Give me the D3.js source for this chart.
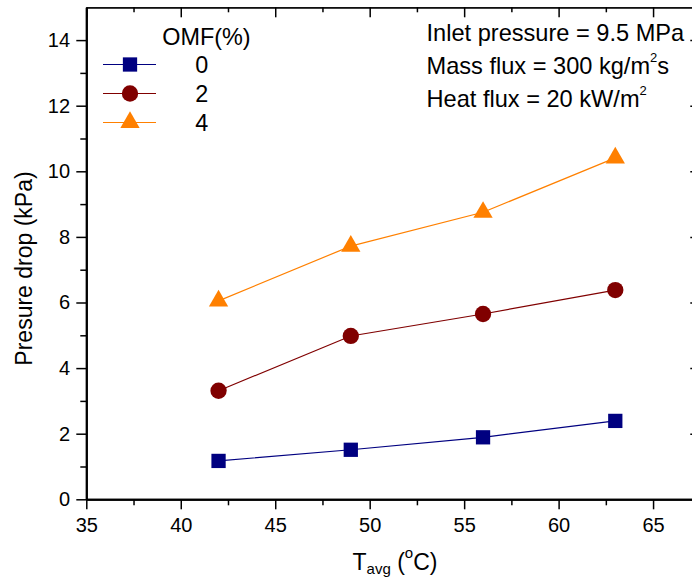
<!DOCTYPE html>
<html>
<head>
<meta charset="utf-8">
<script src="https://cdn.jsdelivr.net/npm/d3@7"></script>
<style>
  body { margin: 0; background: #fff; }
  svg text { font-family: "Liberation Sans", Arial, sans-serif; fill: #000; }
</style>
</head>
<body>
<svg id="chart" width="692" height="586"></svg>
<script>
// Average temperature (°C) for each test point
const temperatures = [42, 49, 56, 63];
// Pressure drop (kPa) at each oil mass fraction
const dropOmf0 = [1.17, 1.51, 1.89, 2.39];
const dropOmf2 = [3.31, 4.98, 5.65, 6.38];
const dropOmf4 = [6.05, 7.72, 8.75, 10.41];
const seriesLabels = ["0", "2", "4"];
const legendTitle = "OMF(%)";

const xMajorTicks = [35, 40, 45, 50, 55, 60, 65];
const xMinorTicks = [37.5, 42.5, 47.5, 52.5, 57.5, 62.5];
const yMajorTicks = [0, 2, 4, 6, 8, 10, 12, 14];
const yMinorTicks = [1, 3, 5, 7, 9, 11, 13];

const svg = d3.select("#chart");
const plot = { left: 86.3, right: 700.3, top: 7.3, bottom: 499.3 };

const x = d3.scaleLinear().domain([35, 67.5]).range([plot.left, plot.right]);
const y = d3.scaleLinear().domain([0, 15]).range([plot.bottom, plot.top]);

const series = [
  { label: seriesLabels[0], values: dropOmf0, color: "#000080", shape: "square" },
  { label: seriesLabels[1], values: dropOmf2, color: "#800000", shape: "circle" },
  { label: seriesLabels[2], values: dropOmf4, color: "#FF8000", shape: "triangle" }
];

const symbolFor = {
  square: d3.symbol().type(d3.symbolSquare).size(204),
  circle: d3.symbol().type(d3.symbolCircle).size(209),
  triangle: d3.symbol().type(d3.symbolTriangle).size(161)
};

// ---- axes ----
function styleAxis(g, domainWidth) {
  g.select(".domain").attr("stroke", "#000").attr("stroke-width", domainWidth);
  g.selectAll(".tick line").attr("stroke", "#000").attr("stroke-width", 1.5);
  g.selectAll(".tick text").style("font-size", "20px").attr("fill", "#000");
}

// bottom
svg.append("g")
  .attr("transform", `translate(0,${plot.bottom})`)
  .call(d3.axisBottom(x).tickValues(xMinorTicks).tickSize(6).tickSizeOuter(0).tickFormat(() => ""))
  .call(g => styleAxis(g, 2));
svg.append("g")
  .attr("transform", `translate(0,${plot.bottom})`)
  .call(d3.axisBottom(x).tickValues(xMajorTicks).tickSize(10).tickSizeOuter(0).tickPadding(8.2))
  .call(g => styleAxis(g, 2));

// left
svg.append("g")
  .attr("transform", `translate(${plot.left},0)`)
  .call(d3.axisLeft(y).tickValues(yMinorTicks).tickSize(6).tickSizeOuter(0).tickFormat(() => ""))
  .call(g => styleAxis(g, 2));
svg.append("g")
  .attr("transform", `translate(${plot.left},0)`)
  .call(d3.axisLeft(y).tickValues(yMajorTicks).tickSize(10).tickSizeOuter(0).tickPadding(6.3))
  .call(g => styleAxis(g, 2));

// top (ticks pointing inward)
svg.append("g")
  .attr("transform", `translate(0,${plot.top})`)
  .call(d3.axisBottom(x).tickValues(xMinorTicks).tickSize(5).tickSizeOuter(0).tickFormat(() => ""))
  .call(g => styleAxis(g, 1.3));
svg.append("g")
  .attr("transform", `translate(0,${plot.top})`)
  .call(d3.axisBottom(x).tickValues(xMajorTicks).tickSize(10).tickSizeOuter(0).tickFormat(() => ""))
  .call(g => styleAxis(g, 1.3));

// right (ticks pointing inward)
svg.append("g")
  .attr("transform", `translate(${plot.right},0)`)
  .call(d3.axisLeft(y).tickValues(yMinorTicks).tickSize(5).tickSizeOuter(0).tickFormat(() => ""))
  .call(g => styleAxis(g, 1.3));
svg.append("g")
  .attr("transform", `translate(${plot.right},0)`)
  .call(d3.axisLeft(y).tickValues(yMajorTicks).tickSize(10).tickSizeOuter(0).tickFormat(() => ""))
  .call(g => styleAxis(g, 1.3));

// ---- axis titles ----
svg.append("text")
  .attr("transform", "translate(31.7,268.5) rotate(-90)")
  .attr("text-anchor", "middle")
  .style("font-size", "23px")
  .text("Presure drop (kPa)");

const xTitle = svg.append("text")
  .attr("x", 352.5)
  .attr("y", 570)
  .style("font-size", "23px");
xTitle.append("tspan").text("T");
xTitle.append("tspan").attr("dy", 4).style("font-size", "15px").text("avg");
xTitle.append("tspan").attr("dy", -4).text(" (");
xTitle.append("tspan").attr("dy", -12.5).style("font-size", "15px").text("o");
xTitle.append("tspan").attr("dy", 12.5).text("C)");

// ---- series ----
const line = d3.line().x((d, i) => x(temperatures[i])).y(d => y(d));

series.forEach(s => {
  svg.append("path")
    .datum(s.values)
    .attr("fill", "none")
    .attr("stroke", s.color)
    .attr("stroke-width", 1.2)
    .attr("d", line);
  svg.selectAll(null)
    .data(s.values)
    .join("path")
    .attr("transform", (d, i) => `translate(${x(temperatures[i])},${y(d)})`)
    .attr("d", symbolFor[s.shape]())
    .attr("fill", s.color);
});

// ---- legend ----
svg.append("text")
  .attr("x", 162.3)
  .attr("y", 44.5)
  .style("font-size", "23.4px")
  .text(legendTitle);

series.forEach((s, i) => {
  const rowY = 64.5 + i * 29;
  svg.append("line")
    .attr("x1", 103).attr("x2", 156)
    .attr("y1", rowY).attr("y2", rowY)
    .attr("stroke", s.color).attr("stroke-width", 1.2);
  svg.append("path")
    .attr("transform", `translate(130,${rowY})`)
    .attr("d", symbolFor[s.shape]())
    .attr("fill", s.color);
  svg.append("text")
    .attr("x", 195.3)
    .attr("y", rowY + 8.6)
    .style("font-size", "23.4px")
    .text(s.label);
});

// ---- test conditions ----
const notes = svg.append("g").style("font-size", "23.6px");
notes.append("text").attr("x", 426.5).attr("y", 40.7).text("Inlet pressure = 9.5 MPa");
const massNote = notes.append("text").attr("x", 426.5).attr("y", 74);
massNote.append("tspan").text("Mass flux = 300 kg/m");
massNote.append("tspan").attr("dy", -12.3).style("font-size", "13px").text("2");
massNote.append("tspan").attr("dy", 12.3).text("s");
const heatNote = notes.append("text").attr("x", 426.5).attr("y", 107.3);
heatNote.append("tspan").text("Heat flux = 20 kW/m");
heatNote.append("tspan").attr("dy", -12.3).style("font-size", "13px").text("2");
</script>
</body>
</html>
